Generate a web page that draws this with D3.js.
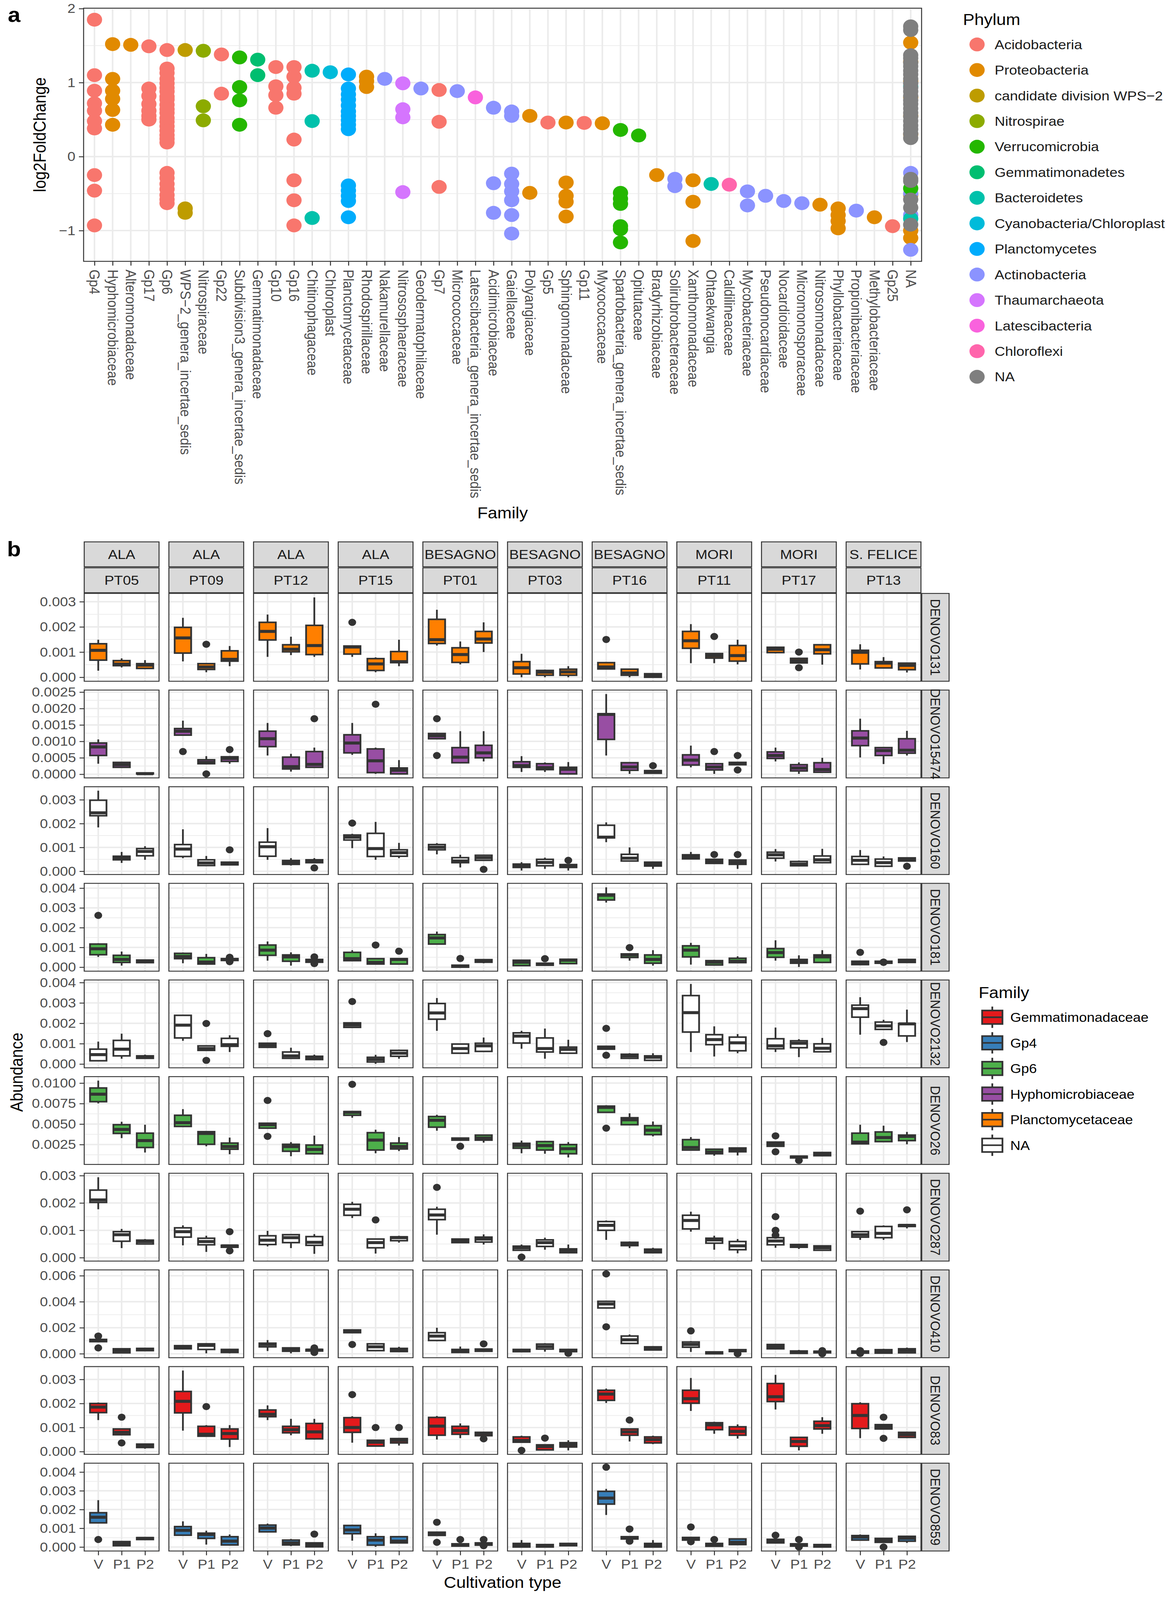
<!DOCTYPE html>
<html>
<head>
<meta charset="utf-8">
<script src="https://cdn.jsdelivr.net/npm/d3@7/dist/d3.min.js"></script>
<style>
  html, body { margin: 0; padding: 0; height: 100%; overflow: hidden; background: #fff; }
  #chart { width: 100vw; height: 100vh; }
  #chart svg { display: block; }
</style>
</head>
<body>
<div id="chart"></div>
<script>
// ---------- panel a : log2 fold change per family ----------
var families = ["Gp4","Hyphomicrobiaceae","Alteromonadaceae","Gp17","Gp6","WPS\u22122_genera_incertae_sedis",
  "Nitrospiraceae","Gp22","Subdivision3_genera_incertae_sedis","Gemmatimonadaceae","Gp10","Gp16",
  "Chitinophagaceae","Chloroplast","Planctomycetaceae","Rhodospirillaceae","Nakamurellaceae",
  "Nitrososphaeraceae","Geodermatophilaceae","Gp7","Micrococcaceae","Latescibacteria_genera_incertae_sedis",
  "Acidimicrobiaceae","Gaiellaceae","Polyangiaceae","Gp5","Sphingomonadaceae","Gp11","Myxococcaceae",
  "Spartobacteria_genera_incertae_sedis","Opitutaceae","Bradyrhizobiaceae","Solirubrobacteraceae",
  "Xanthomonadaceae","Ohtaekwangia","Caldilineaceae","Mycobacteriaceae","Pseudonocardiaceae",
  "Nocardioidaceae","Micromonosporaceae","Nitrosomonadaceae","Phyllobacteriaceae","Propionibacteriaceae",
  "Methylobacteriaceae","Gp25","NA"];

var phyla = ["Acidobacteria","Proteobacteria","candidate division WPS\u22122","Nitrospirae","Verrucomicrobia",
  "Gemmatimonadetes","Bacteroidetes","Cyanobacteria/Chloroplast","Planctomycetes","Actinobacteria",
  "Thaumarchaeota","Latescibacteria","Chloroflexi","NA"];
var phylumColors = ["#F8766D","#E18A00","#BE9C00","#8CAB00","#24B700","#00BE70","#00C1AB","#00BBDA",
  "#00ACFC","#8B93FF","#D575FE","#F962DD","#FF65AC","#7F7F7F"];

// [family, phylum, log2FoldChange values]
var lfcPoints = [
  ["Gp4","Acidobacteria",[1.85,1.10,0.89,0.72,0.62,0.48,0.38,-0.25,-0.46,-0.93]],
  ["Hyphomicrobiaceae","Proteobacteria",[1.52,1.05,0.89,0.78,0.63,0.43]],
  ["Alteromonadaceae","Proteobacteria",[1.51]],
  ["Gp17","Acidobacteria",[1.49,0.92,0.82,0.71,0.62,0.55,0.50]],
  ["Gp6","Acidobacteria",[1.44,1.19,1.13,1.05,0.99,0.93,0.88,0.81,0.77,0.70,0.64,0.59,0.52,0.47,0.41,0.35,0.29,0.24,0.19,-0.22,-0.29,-0.37,-0.44,-0.52,-0.58,-0.63]],
  ["WPS\u22122_genera_incertae_sedis","candidate division WPS\u22122",[1.44,-0.70,-0.76]],
  ["Nitrospiraceae","Nitrospirae",[1.43,0.68,0.49]],
  ["Gp22","Acidobacteria",[1.38,0.85]],
  ["Subdivision3_genera_incertae_sedis","Verrucomicrobia",[1.34,0.94,0.76,0.43]],
  ["Gemmatimonadaceae","Gemmatimonadetes",[1.31,1.10]],
  ["Gp10","Acidobacteria",[1.21,0.95,0.83,0.66]],
  ["Gp16","Acidobacteria",[1.21,1.08,0.93,0.85,0.23,-0.32,-0.59,-0.93]],
  ["Chitinophagaceae","Bacteroidetes",[1.16,0.48,-0.83]],
  ["Chloroplast","Cyanobacteria/Chloroplast",[1.14]],
  ["Planctomycetaceae","Planctomycetes",[1.11,0.92,0.84,0.77,0.69,0.61,0.55,0.49,0.43,0.37,-0.39,-0.46,-0.53,-0.60,-0.82]],
  ["Rhodospirillaceae","Proteobacteria",[1.08,1.02,0.94]],
  ["Nakamurellaceae","Actinobacteria",[1.05]],
  ["Nitrososphaeraceae","Thaumarchaeota",[0.99,0.64,0.53,-0.48]],
  ["Geodermatophilaceae","Actinobacteria",[0.92]],
  ["Gp7","Acidobacteria",[0.90,0.47,-0.41]],
  ["Micrococcaceae","Actinobacteria",[0.885]],
  ["Latescibacteria_genera_incertae_sedis","Latescibacteria",[0.80]],
  ["Acidimicrobiaceae","Actinobacteria",[0.66,-0.36,-0.76]],
  ["Gaiellaceae","Actinobacteria",[0.61,0.55,-0.23,-0.37,-0.47,-0.59,-0.79,-1.04]],
  ["Polyangiaceae","Proteobacteria",[0.55,-0.49]],
  ["Gp5","Acidobacteria",[0.46]],
  ["Sphingomonadaceae","Proteobacteria",[0.46,-0.35,-0.53,-0.61,-0.81]],
  ["Gp11","Acidobacteria",[0.455]],
  ["Myxococcaceae","Proteobacteria",[0.45]],
  ["Spartobacteria_genera_incertae_sedis","Verrucomicrobia",[0.36,-0.49,-0.57,-0.64,-0.94,-0.98,-1.16]],
  ["Opitutaceae","Verrucomicrobia",[0.285]],
  ["Bradyrhizobiaceae","Proteobacteria",[-0.25]],
  ["Solirubrobacteraceae","Actinobacteria",[-0.30,-0.40]],
  ["Xanthomonadaceae","Proteobacteria",[-0.32,-0.61,-1.14]],
  ["Ohtaekwangia","Bacteroidetes",[-0.37]],
  ["Caldilineaceae","Chloroflexi",[-0.38]],
  ["Mycobacteriaceae","Actinobacteria",[-0.47,-0.66]],
  ["Pseudonocardiaceae","Actinobacteria",[-0.53]],
  ["Nocardioidaceae","Actinobacteria",[-0.60]],
  ["Micromonosporaceae","Actinobacteria",[-0.63]],
  ["Nitrosomonadaceae","Proteobacteria",[-0.65]],
  ["Phyllobacteriaceae","Proteobacteria",[-0.70,-0.79,-0.87,-0.97]],
  ["Propionibacteriaceae","Actinobacteria",[-0.73]],
  ["Methylobacteriaceae","Proteobacteria",[-0.82]],
  ["Gp25","Acidobacteria",[-0.94]],
  ["NA","Proteobacteria",[1.54,1.28,1.02,0.80,0.55,0.30,-0.52,-1.00,-1.10]],
  ["NA","Actinobacteria",[-0.22,-0.50,-0.79,-1.26]],
  ["NA","Bacteroidetes",[0.95,-0.84]],
  ["NA","Verrucomicrobia",[-0.43]],
  ["NA","NA",[1.76,1.71,1.37,1.33,1.27,1.22,1.16,1.11,1.05,0.99,0.93,0.88,0.82,0.76,0.71,0.65,0.59,0.54,0.48,0.42,0.37,0.31,0.25,-0.30,-0.33,-0.58,-0.69,-0.92]]
];
var lfcTicks = [-1, 0, 1, 2];

// ---------- panel b : abundance boxplots ----------
var sites = ["ALA","ALA","ALA","ALA","BESAGNO","BESAGNO","BESAGNO","MORI","MORI","S. FELICE"];
var samples = ["PT05","PT09","PT12","PT15","PT01","PT03","PT16","PT11","PT17","PT13"];
var cultTypes = ["V","P1","P2"];
var otus = ["DENOVO131","DENOVO15474","DENOVO160","DENOVO181","DENOVO2132","DENOVO26","DENOVO287","DENOVO410","DENOVO83","DENOVO859"];
var otuFamily = ["Planctomycetaceae","Hyphomicrobiaceae","NA","Gp6","NA","Gp6","NA","NA","Gemmatimonadaceae","Gp4"];
var boxFamilies = ["Gemmatimonadaceae","Gp4","Gp6","Hyphomicrobiaceae","Planctomycetaceae","NA"];
var boxColors = ["#E41A1C","#377EB8","#4DAF4A","#984EA3","#FF7F00","#FFFFFF"];

// tick values in units of 0.001 and decimals shown on each row
var yTicks = [[0,1,2,3],[0,0.5,1,1.5,2,2.5],[0,1,2,3],[0,1,2,3,4],[0,1,2,3,4],[2.5,5,7.5,10],[0,1,2,3],[0,2,4,6],[0,1,2,3],[0,1,2,3,4]];
var yDigits = [3,4,3,3,3,4,3,3,3,3];

// per sample: [V, P1, P2], each [lower, q1, median, q3, upper, outliers]  (units of 0.001)
var denovo131 = [
  [[0.26,0.68,1.07,1.33,1.49],[0.39,0.46,0.52,0.66,0.75],[0.32,0.35,0.48,0.54,0.68]],
  [[0.63,0.96,1.56,1.98,2.36],[0.20,0.31,0.41,0.54,0.57,[1.31]],[0.44,0.64,0.71,1.05,1.24]],
  [[0.81,1.48,1.82,2.18,2.49],[0.88,1.01,1.11,1.29,1.61],[0.81,0.90,1.26,2.06,3.17]],
  [[0.81,0.92,1.20,1.24,1.24,[2.18]],[0.20,0.27,0.53,0.74,0.79],[0.44,0.58,0.62,1.02,1.49]],
  [[1.26,1.34,1.49,2.30,2.68],[0.51,0.59,0.90,1.17,1.42],[1.00,1.36,1.52,1.82,2.18]],
  [[0.00,0.13,0.38,0.62,0.93],[0.00,0.08,0.20,0.27,0.30],[0.00,0.08,0.21,0.32,0.44]],
  [[0.33,0.33,0.41,0.58,0.58,[1.50]],[0.00,0.08,0.17,0.32,0.32],[0.00,0.00,0.08,0.14,0.14]],
  [[0.56,1.15,1.45,1.82,2.11],[0.56,0.76,0.85,0.94,0.94,[1.62]],[0.51,0.64,0.86,1.26,1.49]],
  [[0.95,0.98,1.11,1.19,1.19],[0.57,0.57,0.66,0.75,0.75,[1.00,0.38]],[0.50,0.93,1.09,1.29,1.29]],
  [[0.31,0.53,0.99,1.07,1.31],[0.37,0.37,0.56,0.62,0.80],[0.19,0.30,0.47,0.56,0.56]]
];
var denovo15474 = [
  [[0.32,0.57,0.83,0.95,1.06],[0.21,0.21,0.29,0.36,0.36],[0.01,0.01,0.015,0.04,0.04]],
  [[1.19,1.19,1.31,1.39,1.63,[0.69]],[0.32,0.32,0.36,0.44,0.55,[0.01]],[0.32,0.39,0.48,0.53,0.55,[0.75]]],
  [[0.57,0.84,1.08,1.31,1.56],[0.08,0.16,0.23,0.52,0.62],[0.21,0.21,0.30,0.69,0.81,[1.69]]],
  [[0.59,0.65,0.95,1.20,1.56],[0.01,0.05,0.41,0.77,0.81,[2.13]],[0.01,0.01,0.12,0.19,0.43]],
  [[1.08,1.08,1.17,1.24,1.24,[1.69,0.57]],[0.35,0.35,0.52,0.81,1.31],[0.39,0.50,0.65,0.88,1.31]],
  [[0.07,0.21,0.26,0.38,0.55],[0.07,0.14,0.20,0.32,0.36],[0.01,0.01,0.15,0.21,0.37]],
  [[0.57,1.06,1.82,1.84,2.44],[0.01,0.12,0.22,0.35,0.35],[0.03,0.03,0.08,0.11,0.11,[0.26]]],
  [[0.21,0.28,0.43,0.59,0.87],[0.01,0.13,0.22,0.32,0.32,[0.69]],[0.29,0.29,0.32,0.36,0.36,[0.57,0.13]]],
  [[0.39,0.48,0.57,0.68,0.81],[0.01,0.10,0.19,0.29,0.36],[0.06,0.06,0.14,0.35,0.50]],
  [[0.51,0.87,1.10,1.32,1.69],[0.31,0.57,0.72,0.81,0.81],[0.57,0.64,0.73,1.08,1.32]]
];
var denovo160 = [
  [[1.84,2.33,2.45,2.98,3.38],[0.35,0.48,0.54,0.63,0.81],[0.48,0.65,0.83,0.95,1.05]],
  [[0.55,0.62,0.93,1.12,1.76],[0.24,0.24,0.35,0.48,0.64],[0.27,0.27,0.33,0.38,0.38,[0.90]]],
  [[0.48,0.63,1.03,1.22,1.81],[0.24,0.29,0.36,0.45,0.55],[0.36,0.36,0.43,0.48,0.55,[0.14]]],
  [[0.97,1.31,1.43,1.52,1.57,[2.02]],[0.48,0.62,0.95,1.59,2.07],[0.55,0.63,0.78,0.90,1.19]],
  [[0.71,0.90,1.01,1.12,1.18],[0.16,0.36,0.43,0.57,0.69],[0.46,0.46,0.57,0.67,0.69,[0.08]]],
  [[0.03,0.16,0.24,0.30,0.38],[0.10,0.23,0.37,0.50,0.57],[0.03,0.16,0.23,0.28,0.28,[0.46]]],
  [[1.22,1.40,1.43,1.93,2.05],[0.43,0.43,0.55,0.71,1.00],[0.10,0.22,0.29,0.38,0.38]],
  [[0.52,0.52,0.60,0.69,0.81],[0.33,0.33,0.41,0.50,0.50,[0.70]],[0.10,0.29,0.38,0.47,0.47,[0.70]]],
  [[0.41,0.55,0.69,0.80,0.93],[0.23,0.23,0.30,0.41,0.45],[0.36,0.36,0.48,0.64,0.94]],
  [[0.29,0.29,0.46,0.62,0.89],[0.21,0.21,0.36,0.51,0.62],[0.43,0.43,0.50,0.56,0.56,[0.21]]]
];
var denovo181 = [
  [[0.52,0.63,0.93,1.17,1.21,[2.62]],[0.08,0.24,0.39,0.60,0.79],[0.20,0.23,0.30,0.36,0.36]],
  [[0.20,0.43,0.54,0.70,0.74],[0.16,0.16,0.26,0.48,0.67],[0.34,0.34,0.39,0.43,0.43,[0.50,0.28]]],
  [[0.33,0.60,0.86,1.12,1.30],[0.08,0.30,0.52,0.62,0.75],[0.25,0.25,0.33,0.39,0.39,[0.52,0.18]]],
  [[0.33,0.33,0.43,0.75,0.86],[0.16,0.16,0.24,0.43,0.43,[1.12]],[0.16,0.16,0.39,0.43,0.43,[0.81]]],
  [[1.17,1.17,1.48,1.65,1.80],[0.00,0.00,0.05,0.10,0.10,[0.44]],[0.20,0.25,0.31,0.38,0.38]],
  [[0.08,0.08,0.25,0.35,0.35],[0.10,0.10,0.14,0.20,0.20,[0.43]],[0.18,0.18,0.35,0.40,0.40]],
  [[3.27,3.40,3.64,3.70,4.04],[0.33,0.49,0.62,0.67,0.67,[0.99]],[0.08,0.20,0.39,0.62,0.86]],
  [[0.13,0.52,0.86,1.08,1.23],[0.11,0.11,0.25,0.33,0.37],[0.23,0.23,0.30,0.45,0.55]],
  [[0.33,0.50,0.74,0.94,1.36],[0.01,0.20,0.30,0.39,0.60],[0.24,0.24,0.52,0.62,0.86]],
  [[0.13,0.13,0.20,0.30,0.30,[0.75]],[0.20,0.20,0.25,0.30,0.30,[0.26,0.24]],[0.24,0.24,0.33,0.39,0.39]]
];
var denovo2132 = [
  [[0.16,0.16,0.46,0.73,1.10],[0.26,0.40,0.73,1.16,1.49],[0.28,0.28,0.34,0.40,0.46]],
  [[1.14,1.28,1.91,2.39,2.41],[0.67,0.67,0.76,0.89,0.89,[1.99,0.18]],[0.59,0.87,0.95,1.26,1.41]],
  [[0.82,0.82,0.93,1.02,1.02,[1.49]],[0.28,0.28,0.40,0.59,0.80],[0.22,0.22,0.31,0.38,0.46]],
  [[1.80,1.80,1.92,2.02,2.05,[3.07]],[0.01,0.10,0.22,0.33,0.45],[0.26,0.38,0.53,0.67,0.71]],
  [[1.63,2.20,2.51,2.97,3.24],[0.53,0.53,0.76,0.98,0.98],[0.62,0.62,0.89,1.02,1.30]],
  [[0.75,1.03,1.37,1.53,1.63],[0.26,0.59,0.76,1.28,1.74],[0.53,0.53,0.72,0.83,1.19]],
  [[0.73,0.73,0.80,0.87,0.87,[1.75,0.43]],[0.28,0.28,0.40,0.48,0.53],[0.18,0.18,0.33,0.40,0.53]],
  [[0.59,1.57,2.52,3.36,3.93],[0.37,0.95,1.20,1.44,1.85],[0.53,0.65,1.04,1.32,1.47]],
  [[0.59,0.75,0.89,1.24,1.79],[0.34,0.80,1.02,1.14,1.22],[0.60,0.60,0.77,0.99,1.28]],
  [[1.44,2.30,2.72,2.89,3.28],[1.70,1.70,1.87,2.06,2.17,[1.06]],[1.08,1.38,1.97,1.99,2.67]]
];
var denovo26 = [
  [[7.52,7.73,8.64,9.40,10.30],[3.29,3.86,4.34,4.92,5.28],[1.53,2.14,2.98,3.89,4.92]],
  [[4.71,4.71,5.16,6.07,6.82],[2.29,2.53,3.86,4.07,4.07],[1.32,1.93,2.26,2.68,3.35]],
  [[4.50,4.50,4.92,5.10,5.10,[7.88,3.50]],[1.08,1.68,2.26,2.53,2.80],[1.29,1.38,1.90,2.44,3.59]],
  [[5.77,6.07,6.43,6.52,6.52,[9.85]],[1.44,1.83,3.04,3.95,4.31],[1.71,1.96,2.26,2.68,3.41]],
  [[4.19,4.62,5.46,5.92,6.13],[3.04,3.04,3.17,3.29,3.29,[2.29]],[2.74,3.04,3.29,3.65,3.74]],
  [[1.44,2.05,2.38,2.65,2.98],[1.38,1.83,2.38,2.86,2.89],[0.93,1.38,1.99,2.50,2.80]],
  [[6.43,6.43,7.04,7.19,7.29,[4.50]],[4.92,4.92,5.52,5.77,6.31],[3.50,3.71,4.25,4.80,5.31]],
  [[1.83,1.83,2.14,3.10,3.41],[1.14,1.38,1.59,1.93,1.93],[1.17,1.62,1.83,2.08,2.14]],
  [[2.29,2.29,2.56,2.80,2.80,[3.56,1.62]],[0.87,0.87,0.99,1.08,1.08,[0.56]],[1.14,1.14,1.35,1.53,1.53]],
  [[2.59,2.59,2.80,3.89,4.92],[2.86,2.86,3.35,4.04,4.80],[2.53,2.98,3.50,3.65,4.04]]
];
var denovo287 = [
  [[1.77,2.02,2.11,2.47,2.94],[0.35,0.60,0.84,0.95,1.05],[0.50,0.50,0.59,0.64,0.68]],
  [[0.45,0.75,0.95,1.09,1.18],[0.21,0.47,0.59,0.71,0.80],[0.38,0.38,0.43,0.45,0.45,[0.95,0.25]]],
  [[0.41,0.48,0.64,0.80,0.98],[0.35,0.55,0.73,0.84,0.85],[0.14,0.45,0.56,0.77,0.86]],
  [[1.45,1.55,1.77,1.95,2.04],[0.15,0.36,0.55,0.68,0.68,[1.38]],[0.55,0.62,0.73,0.76,0.80]],
  [[0.84,1.39,1.56,1.77,1.86,[2.57]],[0.55,0.55,0.61,0.68,0.70],[0.48,0.57,0.68,0.75,0.85]],
  [[0.27,0.27,0.36,0.42,0.48,[0.02]],[0.29,0.41,0.55,0.65,0.73],[0.18,0.18,0.25,0.32,0.48]],
  [[0.65,1.00,1.18,1.32,1.36],[0.35,0.44,0.50,0.56,0.59],[0.18,0.18,0.25,0.31,0.36]],
  [[0.95,1.05,1.36,1.55,1.68],[0.29,0.53,0.65,0.71,0.80],[0.16,0.29,0.43,0.59,0.68]],
  [[0.36,0.47,0.61,0.73,0.73,[1.50,1.00,0.82]],[0.32,0.38,0.43,0.48,0.48],[0.27,0.27,0.36,0.43,0.43]],
  [[0.65,0.75,0.84,0.95,0.95,[1.70]],[0.65,0.73,0.89,1.14,1.18],[1.07,1.14,1.18,1.20,1.20,[1.75]]]
];
var denovo410 = [
  [[0.93,0.93,1.02,1.10,1.10,[1.36,0.45]],[0.07,0.07,0.24,0.38,0.38],[0.24,0.24,0.33,0.41,0.41]],
  [[0.38,0.38,0.50,0.62,0.62],[0.03,0.33,0.64,0.76,0.81],[0.03,0.10,0.24,0.33,0.33]],
  [[0.21,0.53,0.71,0.81,1.05],[0.03,0.19,0.33,0.45,0.45],[0.21,0.21,0.28,0.33,0.33,[0.45,0.10]]],
  [[1.62,1.62,1.74,1.83,1.83,[0.71]],[0.24,0.24,0.53,0.76,0.81],[0.17,0.17,0.31,0.41,0.53]],
  [[0.97,1.02,1.36,1.62,2.00],[0.10,0.10,0.21,0.33,0.55],[0.19,0.19,0.29,0.36,0.36,[0.76]]],
  [[0.16,0.16,0.24,0.33,0.33],[0.16,0.36,0.55,0.74,0.81],[0.16,0.16,0.24,0.33,0.33,[0.03]]],
  [[3.52,3.52,3.83,4.03,4.07,[6.14,2.07]],[0.79,0.79,1.07,1.36,1.48],[0.29,0.29,0.41,0.53,0.59]],
  [[0.14,0.50,0.71,0.90,0.97,[1.76]],[0.00,0.00,0.07,0.14,0.14],[0.17,0.17,0.24,0.31,0.31,[0.00]]],
  [[0.38,0.38,0.55,0.71,0.76],[0.03,0.03,0.12,0.21,0.29],[0.07,0.07,0.14,0.19,0.19,[0.24,0.00]]],
  [[0.05,0.05,0.14,0.21,0.21,[0.24,0.02]],[0.05,0.05,0.21,0.31,0.38],[0.07,0.07,0.24,0.38,0.47]]
];
var denovo83 = [
  [[1.31,1.62,1.85,2.00,2.04],[0.70,0.70,0.80,0.94,0.94,[1.43,0.36]],[0.12,0.17,0.25,0.31,0.31]],
  [[0.87,1.61,2.09,2.50,3.37],[0.64,0.64,0.72,1.05,1.10,[1.87]],[0.19,0.52,0.75,0.94,1.10]],
  [[1.31,1.45,1.55,1.73,1.92],[0.68,0.78,0.91,1.05,1.36],[0.50,0.53,0.82,1.17,1.36]],
  [[0.37,0.80,1.00,1.41,1.47,[2.37]],[0.21,0.23,0.39,0.47,0.47,[1.00]],[0.25,0.36,0.46,0.54,0.56,[1.00]]],
  [[0.50,0.68,1.06,1.42,1.48],[0.56,0.72,0.87,1.05,1.17],[0.66,0.66,0.75,0.80,0.80,[0.53]]],
  [[0.39,0.39,0.46,0.61,0.66,[0.05]],[0.07,0.07,0.21,0.28,0.28,[0.56]],[0.05,0.19,0.28,0.37,0.47]],
  [[2.02,2.13,2.39,2.55,2.62],[0.42,0.68,0.82,0.94,0.94,[1.31]],[0.31,0.36,0.50,0.61,0.66]],
  [[1.69,2.01,2.20,2.55,3.06],[0.74,0.91,1.11,1.20,1.24],[0.54,0.68,0.84,1.03,1.13]],
  [[1.75,2.08,2.28,2.83,3.19],[0.05,0.22,0.42,0.59,0.59],[0.74,0.94,1.08,1.26,1.43]],
  [[0.56,0.96,1.50,1.99,2.05],[0.94,0.94,1.03,1.12,1.12,[1.43,0.55]],[0.59,0.59,0.70,0.80,0.80]]
];
var denovo859 = [
  [[1.29,1.29,1.59,1.83,2.50,[0.40]],[0.07,0.07,0.19,0.29,0.29],[0.40,0.40,0.46,0.50,0.50]],
  [[0.63,0.63,0.89,1.09,1.37],[0.13,0.46,0.67,0.74,0.87],[0.11,0.11,0.31,0.55,0.67]],
  [[0.81,0.81,1.01,1.17,1.25],[0.05,0.11,0.22,0.37,0.43],[0.01,0.01,0.13,0.22,0.22,[0.69]]],
  [[0.34,0.71,0.91,1.15,1.19],[0.01,0.10,0.37,0.55,0.73],[0.22,0.22,0.31,0.55,0.55]],
  [[0.62,0.62,0.71,0.79,0.79,[1.32,0.25]],[0.05,0.05,0.11,0.17,0.17,[0.40]],[0.10,0.10,0.16,0.22,0.22,[0.40,0.07]]],
  [[0.00,0.00,0.10,0.19,0.37],[0.00,0.00,0.07,0.13,0.13],[0.07,0.07,0.13,0.19,0.19]],
  [[1.71,2.29,2.61,2.97,3.10,[4.26]],[0.43,0.43,0.49,0.55,0.55,[0.96,0.31]],[0.00,0.00,0.10,0.19,0.37]],
  [[0.37,0.37,0.43,0.51,0.51,[1.07,0.28]],[0.04,0.04,0.10,0.19,0.19,[0.40]],[0.13,0.13,0.25,0.43,0.43]],
  [[0.22,0.22,0.31,0.41,0.41,[0.63]],[0.05,0.05,0.11,0.17,0.17,[0.40,0.00]],[0.00,0.00,0.07,0.13,0.13]],
  [[0.37,0.37,0.53,0.61,0.67],[0.25,0.25,0.35,0.46,0.46,[0.00]],[0.22,0.31,0.47,0.57,0.61]]
];
var boxStats = [denovo131, denovo15474, denovo160, denovo181, denovo2132, denovo26, denovo287, denovo410, denovo83, denovo859];

// ---------- drawing ----------
var FONT = "'Liberation Sans', Arial, Helvetica, sans-serif";
var GRID = "#EBEBEB", DARK = "#333333", TICKTXT = "#4D4D4D";

// the whole figure is laid out on a 3000 x 4500 canvas and stretched to fill the window
var svg = d3.select("#chart").append("svg")
  .attr("width", "100%").attr("height", "100%")
  .attr("viewBox", "0 0 3000 4500")
  .attr("preserveAspectRatio", "none")
  .style("font-family", FONT);
svg.append("rect").attr("width", 3000).attr("height", 4500).attr("fill", "#fff");

function styleAxis(g, size) {
  g.select(".domain").remove();
  g.selectAll(".tick line").attr("stroke", DARK).attr("stroke-width", 2.5);
  g.selectAll(".tick text").attr("fill", TICKTXT).attr("font-size", size).attr("font-family", FONT);
}

// panel labels
svg.append("text").text("a").attr("x", 20).attr("y", 62)
  .attr("font-size", 58).attr("font-weight", "bold");
svg.append("text").text("b").attr("x", 18).attr("y", 1564)
  .attr("font-size", 58).attr("font-weight", "bold");

// ===== panel a =====
var aL = 214, aR = 2359, aT = 23, aB = 735;
var phyColor = d3.scaleOrdinal().domain(phyla).range(phylumColors);
var ax = d3.scalePoint().domain(families).range([aL, aR]).padding(0.6);
var allLfc = d3.merge(lfcPoints.map(function(d){ return d[2]; }));
var lfcMin = d3.min(allLfc), lfcMax = d3.max(allLfc), lfcPad = (lfcMax - lfcMin) * 0.05;
var ay = d3.scaleLinear().domain([lfcMin - lfcPad, lfcMax + lfcPad]).range([aB, aT]);

var pa = svg.append("g");
pa.append("rect").attr("x", aL).attr("y", aT).attr("width", aR - aL).attr("height", aB - aT).attr("fill", "#fff");
// minor grid
var aMinor = [-1.5, -0.5, 0.5, 1.5].filter(function(v){ return v > ay.domain()[0] && v < ay.domain()[1]; });
pa.selectAll(".aminor").data(aMinor).enter().append("line")
  .attr("x1", aL).attr("x2", aR).attr("y1", ay).attr("y2", ay)
  .attr("stroke", GRID).attr("stroke-width", 2);
pa.selectAll(".amajor").data(lfcTicks).enter().append("line")
  .attr("x1", aL).attr("x2", aR).attr("y1", ay).attr("y2", ay)
  .attr("stroke", GRID).attr("stroke-width", 4);
pa.selectAll(".avert").data(families).enter().append("line")
  .attr("x1", ax).attr("x2", ax).attr("y1", aT).attr("y2", aB)
  .attr("stroke", GRID).attr("stroke-width", 4);

// points
lfcPoints.forEach(function(row) {
  pa.append("g").selectAll("circle").data(row[2]).enter().append("circle")
    .attr("cx", ax(row[0]))
    .attr("cy", function(v){ return ay(v); })
    .attr("r", 19.5)
    .attr("fill", phyColor(row[1]));
});
pa.append("rect").attr("x", aL).attr("y", aT).attr("width", aR - aL).attr("height", aB - aT)
  .attr("fill", "none").attr("stroke", DARK).attr("stroke-width", 2.5);

// axes
svg.append("g").attr("transform", "translate(" + aL + ",0)")
  .call(d3.axisLeft(ay).tickValues(lfcTicks).tickSize(12).tickPadding(9).tickFormat(d3.format("d")))
  .call(function(g){ styleAxis(g, 37); });
var axB = svg.append("g").attr("transform", "translate(0," + aB + ")")
  .call(d3.axisBottom(ax).tickSize(12))
  .call(function(g){ styleAxis(g, 37); });
axB.selectAll(".tick text")
  .attr("transform", "rotate(90)")
  .attr("x", 23).attr("y", 0).attr("dy", "0.35em")
  .style("text-anchor", "start");

svg.append("text").text("log2FoldChange")
  .attr("transform", "translate(117," + ((aT + aB) / 2) + ") rotate(-90)")
  .attr("text-anchor", "middle").attr("font-size", 44);
svg.append("text").text("Family")
  .attr("x", (aL + aR) / 2).attr("y", 1458)
  .attr("text-anchor", "middle").attr("font-size", 44);

// legend Phylum
var legA = svg.append("g");
legA.append("text").text("Phylum").attr("x", 2465).attr("y", 70).attr("font-size", 44);
var legAItems = legA.selectAll(".li").data(phyla).enter().append("g")
  .attr("transform", function(d, i){ return "translate(2501," + (125 + i * 71.9) + ")"; });
legAItems.append("circle").attr("r", 19.5).attr("fill", function(d){ return phyColor(d); });
legAItems.append("text").text(function(d){ return d; })
  .attr("x", 45).attr("y", 13).attr("font-size", 37).attr("fill", "#1A1A1A");

// ===== panel b =====
var bLeft = 215.6, bStep = 216.7, bW = 191.5, bTop = 1669, bRowStep = 271.8, bH = 247;
var famColor = d3.scaleOrdinal().domain(boxFamilies).range(boxColors);
var bx = d3.scalePoint().domain(cultTypes).range([0, bW]).padding(0.6);
var boxW = bx.step() * 0.78 - 4.5;

otus.forEach(function(otu, r) {
  var rowVals = [];
  boxStats[r].forEach(function(col) {
    col.forEach(function(s) {
      rowVals.push(s[0], s[4]);
      (s[5] || []).forEach(function(o){ rowVals.push(o); });
    });
  });
  var mn = d3.min(rowVals), mx = d3.max(rowVals), pd = (mx - mn) * 0.05;
  var y = d3.scaleLinear().domain([mn - pd, mx + pd]).range([bH, 0]);
  var ticks = yTicks[r];
  var st = ticks[1] - ticks[0];
  var minors = [];
  for (var v = ticks[0] - st / 2; v < y.domain()[1]; v += st) {
    if (v > y.domain()[0]) minors.push(v);
  }
  var fill = famColor(otuFamily[r]);

  samples.forEach(function(smp, c) {
    var g = svg.append("g")
      .attr("transform", "translate(" + (bLeft + c * bStep) + "," + (bTop + r * bRowStep) + ")");
    g.append("rect").attr("width", bW).attr("height", bH).attr("fill", "#fff");
    g.selectAll(".mn").data(minors).enter().append("line")
      .attr("x1", 0).attr("x2", bW).attr("y1", y).attr("y2", y)
      .attr("stroke", GRID).attr("stroke-width", 2);
    g.selectAll(".mj").data(ticks).enter().append("line")
      .attr("x1", 0).attr("x2", bW).attr("y1", y).attr("y2", y)
      .attr("stroke", GRID).attr("stroke-width", 4);
    g.selectAll(".vg").data(cultTypes).enter().append("line")
      .attr("x1", bx).attr("x2", bx).attr("y1", 0).attr("y2", bH)
      .attr("stroke", GRID).attr("stroke-width", 4);

    boxStats[r][c].forEach(function(s, i) {
      var cx = bx(cultTypes[i]);
      var bg = g.append("g");
      bg.append("line").attr("x1", cx).attr("x2", cx).attr("y1", y(s[3])).attr("y2", y(s[4]))
        .attr("stroke", DARK).attr("stroke-width", 4.5);
      bg.append("line").attr("x1", cx).attr("x2", cx).attr("y1", y(s[1])).attr("y2", y(s[0]))
        .attr("stroke", DARK).attr("stroke-width", 4.5);
      bg.append("rect").attr("x", cx - boxW / 2).attr("width", boxW)
        .attr("y", y(s[3])).attr("height", Math.max(0.5, y(s[1]) - y(s[3])))
        .attr("fill", fill).attr("stroke", DARK).attr("stroke-width", 4.5);
      bg.append("line").attr("x1", cx - boxW / 2).attr("x2", cx + boxW / 2)
        .attr("y1", y(s[2])).attr("y2", y(s[2]))
        .attr("stroke", DARK).attr("stroke-width", 8.5);
      bg.selectAll("circle").data(s[5] || []).enter().append("circle")
        .attr("cx", cx).attr("cy", function(o){ return y(o); }).attr("r", 10)
        .attr("fill", DARK);
    });

    g.append("rect").attr("width", bW).attr("height", bH)
      .attr("fill", "none").attr("stroke", DARK).attr("stroke-width", 2.5);

    if (c === 0) {
      g.append("g")
        .call(d3.axisLeft(y).tickValues(ticks).tickSize(12).tickPadding(9)
          .tickFormat(function(t){ return (t / 1000).toFixed(yDigits[r]); }))
        .call(function(a){ styleAxis(a, 37); });
    }
    if (r === otus.length - 1) {
      g.append("g").attr("transform", "translate(0," + bH + ")")
        .call(d3.axisBottom(bx).tickSize(12).tickPadding(12))
        .call(function(a){ styleAxis(a, 37); });
    }
    if (r === 0) {
      [[sites[c], -145], [smp, -72]].forEach(function(sp) {
        g.append("rect").attr("x", 0).attr("y", sp[1]).attr("width", bW).attr("height", 70)
          .attr("fill", "#D9D9D9").attr("stroke", DARK).attr("stroke-width", 2.5);
        g.append("text").text(sp[0]).attr("x", bW / 2).attr("y", sp[1] + 35).attr("dy", "0.35em")
          .attr("text-anchor", "middle").attr("font-size", 37).attr("fill", "#1A1A1A");
      });
    }
    if (c === samples.length - 1) {
      g.append("rect").attr("x", bW + 2).attr("y", 0).attr("width", 70).attr("height", bH)
        .attr("fill", "#D9D9D9").attr("stroke", DARK).attr("stroke-width", 2.5);
      g.append("text").text(otu)
        .attr("transform", "translate(" + (bW + 37) + "," + (bH / 2) + ") rotate(90)")
        .attr("dy", "0.35em").attr("text-anchor", "middle")
        .attr("font-size", 36).attr("fill", "#1A1A1A");
    }
  });
});

var bMid = bLeft + (samples.length - 1) * bStep + bW;
svg.append("text").text("Abundance")
  .attr("transform", "translate(58," + (bTop + (9 * bRowStep + bH) / 2) + ") rotate(-90)")
  .attr("text-anchor", "middle").attr("font-size", 44);
svg.append("text").text("Cultivation type")
  .attr("x", (bLeft + bMid) / 2).attr("y", 4466)
  .attr("text-anchor", "middle").attr("font-size", 44);

// legend Family
var legB = svg.append("g");
legB.append("text").text("Family").attr("x", 2505).attr("y", 2807).attr("font-size", 44);
var legBItems = legB.selectAll(".lb").data(boxFamilies).enter().append("g")
  .attr("transform", function(d, i){ return "translate(2540," + (2861 + i * 72) + ")"; });
legBItems.append("line").attr("x1", 0).attr("x2", 0).attr("y1", -30).attr("y2", 30)
  .attr("stroke", DARK).attr("stroke-width", 4.5);
legBItems.append("rect").attr("x", -26).attr("y", -19).attr("width", 52).attr("height", 38)
  .attr("fill", function(d){ return famColor(d); }).attr("stroke", DARK).attr("stroke-width", 4.5);
legBItems.append("line").attr("x1", -26).attr("x2", 26).attr("y1", 0).attr("y2", 0)
  .attr("stroke", DARK).attr("stroke-width", 4.5);
legBItems.append("text").text(function(d){ return d; })
  .attr("x", 46).attr("y", 13).attr("font-size", 36).attr("fill", "#000");
</script>
</body>
</html>
